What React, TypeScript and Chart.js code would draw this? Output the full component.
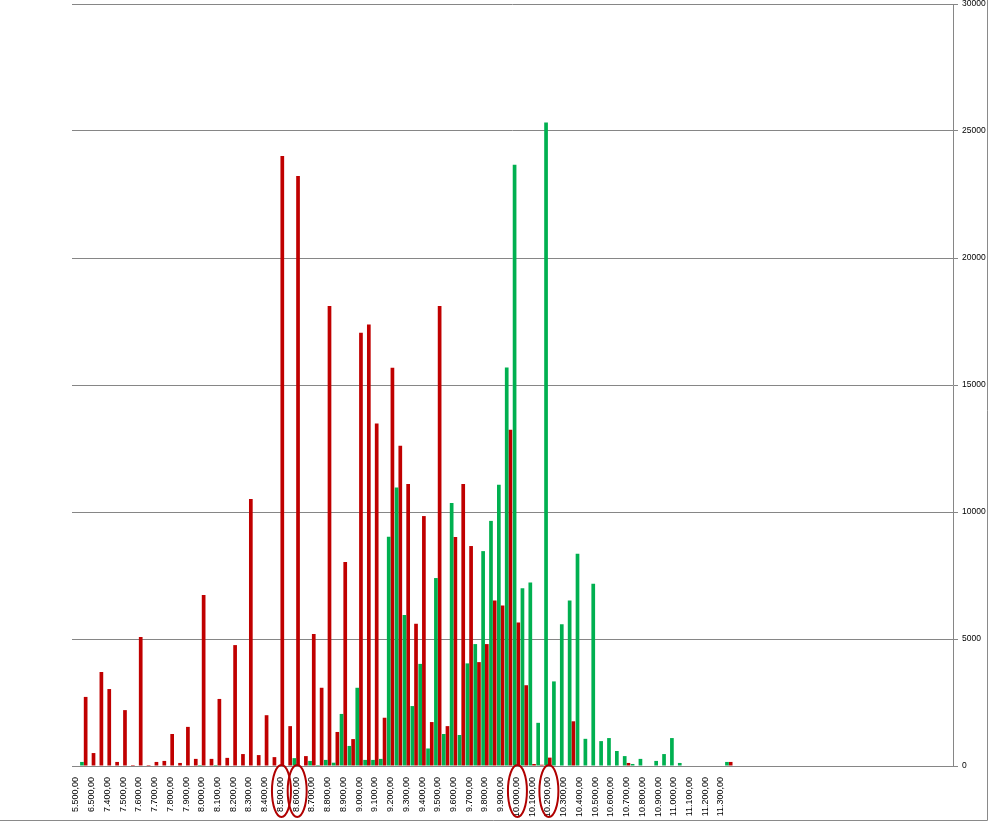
import React, { useEffect, useRef } from "react";
import { Chart, registerables } from "chart.js";

Chart.register(...registerables);

// Category labels (every second one is shown on the axis, like the original)
const shownLabels = [
  "5.500,00", "6.500,00", "7.400,00", "7.500,00", "7.600,00", "7.700,00", "7.800,00",
  "7.900,00", "8.000,00", "8.100,00", "8.200,00", "8.300,00", "8.400,00", "8.500,00",
  "8.600,00", "8.700,00", "8.800,00", "8.900,00", "9.000,00", "9.100,00", "9.200,00",
  "9.300,00", "9.400,00", "9.500,00", "9.600,00", "9.700,00", "9.800,00", "9.900,00",
  "10.000,00", "10.100,00", "10.200,00", "10.300,00", "10.400,00", "10.500,00",
  "10.600,00", "10.700,00", "10.800,00", "10.900,00", "11.000,00", "11.100,00",
  "11.200,00", "11.300,00",
];
const hiddenLabels = [
  "6.000,00", "7.000,00", "7.450,00", "7.550,00", "7.650,00", "7.750,00", "7.850,00",
  "7.950,00", "8.050,00", "8.150,00", "8.250,00", "8.350,00", "8.450,00", "8.550,00",
  "8.650,00", "8.750,00", "8.850,00", "8.950,00", "9.050,00", "9.150,00", "9.250,00",
  "9.350,00", "9.450,00", "9.550,00", "9.650,00", "9.750,00", "9.850,00", "9.950,00",
  "10.050,00", "10.150,00", "10.250,00", "10.350,00", "10.450,00", "10.550,00",
  "10.650,00", "10.750,00", "10.850,00", "10.950,00", "11.050,00", "11.150,00",
  "11.250,00", "11.350,00",
];
const emptyCategoryCount = 28;

const greenValues: (number | null)[] = [
  null, 160, null, null, null, null, null, null, null, null,
  null, null, null, null, null, null, 40, null, 40, null,
  null, null, null, null, null, null, null, null, 310, null,
  200, 40, 240, 130, 2050, 790, 3080, 240, 240, 280,
  9030, 10960, 5940, 2360, 4020, 690, 7400, 1260, 10350, 1220,
  4040, 4800, 8460, 9650, 11070, 15690, 23670, 7000, 7220, 1700,
  25330, 3330, 5580, 6520, 8360, 1070, 7180, 980, 1100, 590,
  390, 80, 280, null, 200, 470, 1100, 120, null, null,
  null, null, null, 160,
];
const redValues: (number | null)[] = [
  null, 2720, 510, 3700, 3030, 160, 2200, 40, 5080, 40,
  160, 200, 1260, 120, 1540, 280, 6730, 280, 2640, 320,
  4760, 470, 10510, 430, 2000, 350, 24020, 1570, 23230, 390,
  5200, 3080, 18110, 1340, 8030, 1060, 17060, 17380, 13480, 1900,
  15680, 12610, 11100, 5600, 9840, 1730, 18110, 1570, 9020, 11100,
  8660, 4090, 4800, 6520, 6320, 13240, 5650, 3180, 80, 50,
  330, null, null, 1760, null, null, null, null, null, null,
  120, null, null, null, null, null, null, null, null, null,
  null, null, null, 160,
];

const circledLabels = ["8.500,00", "8.600,00", "10.000,00", "10.200,00"];

const yMin = 0;
const yMax = 30000;
const yStep = 5000;

const GREEN = "#00B050";
const RED = "#C00000";
const GRID = "#868686";

export default function App() {
  const ref = useRef<HTMLCanvasElement | null>(null);

  useEffect(() => {
    const canvas = ref.current;
    if (!canvas) return;

    const labels: string[] = [];
    shownLabels.forEach((l, i) => {
      labels.push(l);
      labels.push(hiddenLabels[i]);
    });
    for (let i = 0; i < emptyCategoryCount; i++) labels.push("");

    const circledIdx = circledLabels.map((l) => labels.indexOf(l));

    const decor = {
      id: "decor",
      afterDraw(chart: any) {
        const ctx = chart.ctx;
        const xs = chart.scales.x;
        ctx.save();
        ctx.strokeStyle = "#B00000";
        ctx.lineWidth = 2;
        circledIdx.forEach((idx) => {
          const x = xs.getPixelForValue(idx);
          ctx.beginPath();
          ctx.ellipse(x + 1, 791, 9.5, 26, 0, 0, Math.PI * 2);
          ctx.stroke();
        });
        ctx.strokeStyle = "#8a8a8a";
        ctx.lineWidth = 1;
        ctx.beginPath();
        ctx.moveTo(987.5, 0);
        ctx.lineTo(987.5, 820.5);
        ctx.lineTo(0, 820.5);
        ctx.stroke();
        ctx.restore();
      },
    };

    const chart = new Chart(canvas, {
      type: "bar",
      data: {
        labels,
        datasets: [
          {
            label: "green",
            data: greenValues,
            backgroundColor: GREEN,
            borderWidth: 0,
            categoryPercentage: 0.94,
            barPercentage: 1,
          },
          {
            label: "red",
            data: redValues,
            backgroundColor: RED,
            borderWidth: 0,
            categoryPercentage: 0.94,
            barPercentage: 1,
          },
        ],
      },
      options: {
        responsive: false,
        animation: false,
        devicePixelRatio: 1,
        layout: { padding: { left: 72, top: 4, right: 0, bottom: 0 } },
        plugins: {
          legend: { display: false },
          tooltip: { enabled: false },
          title: { display: false },
        },
        scales: {
          x: {
            position: "bottom",
            grid: { display: false },
            border: { display: true, color: GRID, width: 1 },
            ticks: {
              autoSkip: false,
              maxRotation: 90,
              minRotation: 90,
              padding: 3,
              color: "#000",
              font: { family: "'Liberation Sans', Arial, sans-serif", size: 9 },
              callback: (_v: any, i: number) => (i % 2 === 0 ? labels[i] : ""),
            },
            afterFit: (s: any) => {
              s.height = 56;
              s.paddingLeft = 0;
              s.paddingRight = 0;
            },
          },
          y: {
            position: "right",
            min: yMin,
            max: yMax,
            grid: { color: GRID, lineWidth: 1, drawTicks: true, tickLength: 5 },
            border: { display: true, color: GRID, width: 1 },
            ticks: {
              stepSize: yStep,
              padding: 4,
              color: "#000",
              font: { family: "'Liberation Sans', Arial, sans-serif", size: 8.5 },
              callback: (v: any) => String(v),
            },
            afterFit: (s: any) => {
              s.width = 36;
              s.paddingTop = 0;
              s.paddingBottom = 0;
            },
          },
        },
      },
      plugins: [decor],
    });

    return () => chart.destroy();
  }, []);

  return (
    <div style={{ position: "absolute", left: 0, top: 0, width: 989, height: 822, background: "#fff" }}>
      <canvas ref={ref} width={989} height={822} style={{ width: 989, height: 822, display: "block" }} />
    </div>
  );
}
